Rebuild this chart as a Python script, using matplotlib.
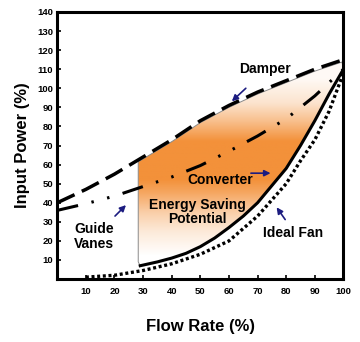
import numpy as np
import matplotlib.pyplot as plt
from matplotlib.patches import Polygon
from matplotlib.colors import LinearSegmentedColormap

plt.rcParams['font.family'] = ['Liberation Sans', 'DejaVu Sans']
plt.rcParams['font.weight'] = 'bold'

# flow rate (%) vs input power (%)
damper_x = [0, 10, 20, 30, 40, 50, 60, 70, 80, 90, 100]
damper_y = [40, 47, 55, 64, 73, 83, 91, 98, 104, 110, 115]

vanes_x = [0, 10, 20, 30, 40, 50, 60, 70, 80, 90, 100]
vanes_y = [36, 39.5, 43.5, 48.5, 53.5, 59.5, 67, 75, 84, 96, 110]

conv_x = [29, 35, 40, 45, 50, 55, 60, 65, 70, 75, 80, 85, 90, 95, 100]
conv_y = [7, 9, 11, 13.5, 17, 21.5, 27, 33, 40, 49, 58, 70, 83, 97, 110]

fan_x = [10, 20, 30, 40, 50, 60, 70, 80, 85, 90, 95, 100]
fan_y = [1, 2, 4.5, 8, 13, 20, 33, 50, 62, 73, 88, 108]

# energy saving area: left edge / bottom corner
area_left = 28.3
area_bottom = 9

xticks = list(range(10, 101, 10))
yticks = list(range(10, 141, 10))

navy = '#1c1c80'
orange = '#f3913a'

fig = plt.figure(figsize=(3.6, 3.42), dpi=100)
ax = fig.add_axes([0.159, 0.184, 0.795, 0.781])
ax.set_xlim(0, 100)
ax.set_ylim(0, 140)

# shaded area between damper and converter
top_x = np.linspace(area_left, 99.5, 60)
top_y = np.interp(top_x, damper_x, damper_y) - 1
pts = [(area_left, area_bottom)] + list(zip(top_x, top_y)) + list(zip(conv_x[::-1], conv_y[::-1]))
poly = Polygon(pts, closed=True, facecolor='none', edgecolor='#8a8a8a', lw=0.7, zorder=2)
ax.add_patch(poly)

cmap = LinearSegmentedColormap.from_list('wo', ['white', orange])
gy = np.linspace(0, 140, 300)
gv = np.interp(gy, [0, 12, 25, 35, 45, 52, 72, 82, 92, 105],
               [0, 0, 0.2, 0.45, 0.8, 1, 1, 0.6, 0.25, 0.05])
im = ax.imshow(gv[:, None], extent=[0, 100, 0, 140], origin='lower', aspect='auto',
               cmap=cmap, vmin=0, vmax=1, zorder=1)
im.set_clip_path(poly)

ax.plot(damper_x, damper_y, color='black', lw=2.5, ls=(0, (5.5, 2.3)), zorder=3)
ax.plot(vanes_x, vanes_y, color='black', lw=2.2, ls=(0, (7, 4.5, 0.8, 4.5, 0.8, 4.5)), zorder=3)
ax.plot(conv_x, conv_y, color='black', lw=2.2, zorder=3)
ax.plot(fan_x, fan_y, color='black', lw=2.4, ls=(0, (0.9, 0.8)), zorder=3)

arw = dict(arrowstyle='-|>', color=navy, lw=1.2, mutation_scale=9)
ax.annotate('', xy=(60.3, 92.2), xytext=(66.6, 101), arrowprops=arw, zorder=4)
ax.annotate('', xy=(75.5, 55.5), xytext=(66.7, 55.5), arrowprops=arw, zorder=4)
ax.annotate('', xy=(76.1, 38.8), xytext=(80.2, 30), arrowprops=arw, zorder=4)
ax.annotate('', xy=(24.7, 39.8), xytext=(19.5, 32), arrowprops=arw, zorder=4)

fs = 10
ax.text(72.6, 110, 'Damper', fontsize=fs, ha='center', va='center', zorder=5)
ax.text(56.8, 52, 'Converter', fontsize=fs, ha='center', va='center', zorder=5)
ax.text(49, 35.1, 'Energy Saving\nPotential', fontsize=fs, ha='center', va='center',
        linespacing=1.0, zorder=5)
ax.text(82.4, 24.1, 'Ideal Fan', fontsize=fs, ha='center', va='center', zorder=5)
ax.text(12.8, 22.3, 'Guide\nVanes', fontsize=fs, ha='center', va='center',
        linespacing=1.1, zorder=5)

ax.set_xticks(xticks)
ax.set_yticks(yticks)
ax.tick_params(direction='in', length=3, width=1.2, labelsize=6.8)
ax.tick_params(axis='x', pad=6)
ax.tick_params(axis='y', pad=3)
for s in ax.spines.values():
    s.set_linewidth(2.2)

ax.set_xlabel('Flow Rate (%)', fontsize=12, fontweight='bold', labelpad=16)
ax.set_ylabel('Input Power (%)', fontsize=12, fontweight='bold', labelpad=5)

fig.savefig('out.png', dpi=100)
